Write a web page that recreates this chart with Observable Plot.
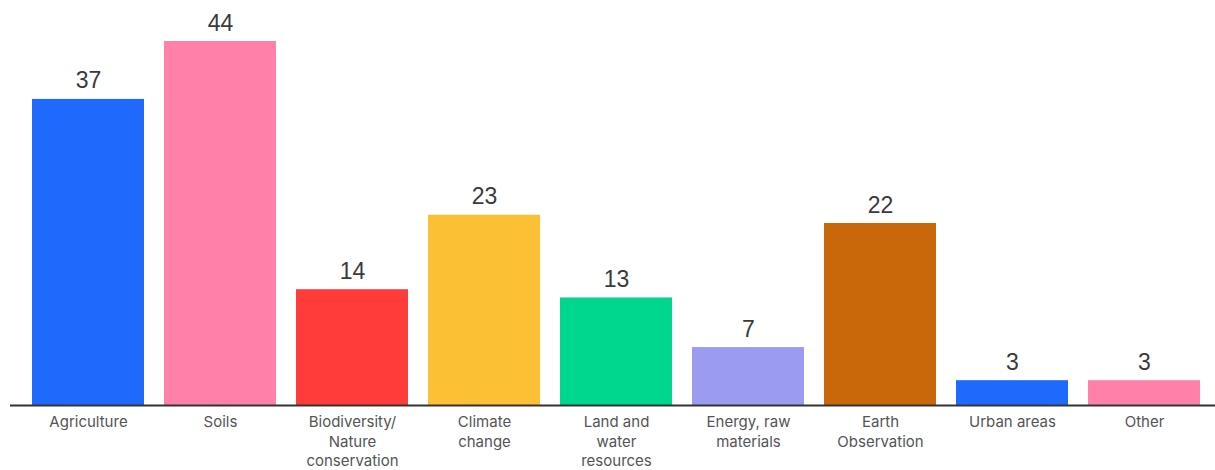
<!DOCTYPE html>
<html>
<head>
<meta charset="utf-8">
<script src="https://cdn.jsdelivr.net/npm/d3@7"></script>
<script src="https://cdn.jsdelivr.net/npm/@observablehq/plot@0.6"></script>
<style>
  html, body { margin: 0; padding: 0; background: #fff; }
  #chart svg { display: block; }
</style>
</head>
<body>
<div id="chart"></div>
<script>
// Number of projects per thematic area
const categories = ["Agriculture", "Soils", "Biodiversity/Nature conservation", "Climate change",
  "Land and water resources", "Energy, raw materials", "Earth Observation", "Urban areas", "Other"];
const tickLabels = ["Agriculture", "Soils", "Biodiversity/\nNature\nconservation", "Climate\nchange",
  "Land and\nwater\nresources", "Energy, raw\nmaterials", "Earth\nObservation", "Urban areas", "Other"];
const counts = [37, 44, 14, 23, 13, 7, 22, 3, 3];
const barColors = ["#1d6afc", "#ff80a8", "#ff3c3a", "#fbc033", "#00d78e", "#9a9bf1", "#c9680b", "#1d6afc", "#ff80a8"];

const data = categories.map((c, i) => ({category: c, count: counts[i], color: barColors[i]}));
const labelOf = new Map(categories.map((c, i) => [c, tickLabels[i]]));

const chart = Plot.plot({
  width: 1215,
  height: 470,
  marginTop: 41,
  marginBottom: 65,
  marginLeft: 10,
  marginRight: 0,
  style: {fontFamily: "Inter, 'Open Sans', sans-serif", background: "#fff"},
  x: {domain: categories, range: [31, 1201], paddingInner: 0.15, paddingOuter: 0, label: null},
  y: {domain: [0, 44], axis: null},
  marks: [
    Plot.barY(data, {x: "category", y: "count", fill: "color"}),
    Plot.text(data, {
      x: "category", y: "count", text: d => String(d.count),
      lineAnchor: "bottom", dy: -11, fontSize: 23, fill: "#3a3a3a",
      fontFamily: "'Liberation Sans', Arial, sans-serif"
    }),
    Plot.ruleY([0], {stroke: "#333", strokeWidth: 2}),
    Plot.axisX({
      tickSize: 0, tickPadding: 8, fontSize: 15, fill: "#555",
      tickFormat: d => labelOf.get(d), lineHeight: 1.3, label: null
    })
  ]
});
document.getElementById("chart").appendChild(chart);
</script>
</body>
</html>
